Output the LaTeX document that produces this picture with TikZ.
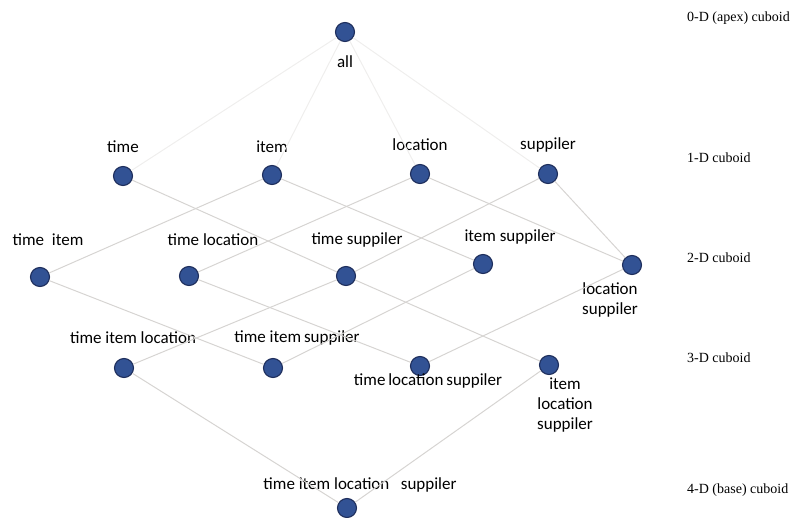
\documentclass[tikz,border=0pt]{standalone}
\usepackage{fontspec}
\setmainfont{Carlito}
\newfontfamily\dimfont{Liberation Serif}
\usetikzlibrary{positioning}

\definecolor{cellblue}{RGB}{50,82,148}
\definecolor{cellrim}{RGB}{30,46,92}
\definecolor{linkgray}{RGB}{214,212,210}

\begin{document}
\begin{tikzpicture}[x=1pt,y=-1pt,
    cell/.style={circle,draw=cellrim,fill=cellblue,line width=1.1pt,minimum size=19pt,inner sep=0pt},
    lab/.style={font=\fontsize{17}{20}\selectfont,inner sep=0pt,align=center},
    dim/.style={font=\dimfont\fontsize{14}{16}\selectfont,anchor=west,inner sep=0pt},
    link/.style={draw=linkgray,line width=1pt},
    faint/.style={draw=linkgray!40,line width=1pt}]
    \useasboundingbox (0,0) rectangle (795,518);

    % apex
    \node[cell] (all) at (345,32) {};
    \node[lab] (allL) at (345,62) {all};

    % 1-D cuboids
    \node[cell] (t) at (123,176) {};
    \node[cell] (i) at (272,175) {};
    \node[cell] (l) at (420,174) {};
    \node[cell] (s) at (548,174) {};
    \node[lab] (tL) at (123,147) {time};
    \node[lab] (iL) at (272,147) {item};
    \node[lab] (lL) at (420,145) {location};
    \node[lab] (sL) at (548,145) {suppiler};

    % 2-D cuboids
    \node[cell] (ti) at (40,277) {};
    \node[cell] (tl) at (189,276) {};
    \node[cell] (ts) at (346,276) {};
    \node[cell] (is) at (483,264) {};
    \node[cell] (ls) at (632,265) {};
    \node[lab] (tiL) at (48,240) {time\ \ item};
    \node[lab] (tlL) at (213,240) {time location};
    \node[lab] (tsL) at (357,240) {time suppiler};
    \node[lab] (isL) at (510,237) {item suppiler};
    \node[lab] (lsL) at (610,300) {location\\suppiler};

    % 3-D cuboids
    \node[cell] (til) at (124,368) {};
    \node[cell] (tis) at (273,368) {};
    \node[cell] (tls) at (420,366) {};
    \node[cell] (ils) at (549,365) {};
    \node[lab] (tilL) at (133,338) {time item location};
    \node[lab] (tisL) at (297,338) {time item\,suppiler};
    \node[lab] (tlsL) at (428,381) {time\,location\,suppiler};
    \node[lab] (ilsL) at (565,405) {item\\location\\suppiler};

    % base
    \node[cell] (base) at (347,508) {};
    \node[lab] (baseL) at (360,485) {time item location\ \ \ suppiler};

    % dimension captions
    \node[dim] (d0) at (687,18) {0-D (apex) cuboid};
    \node[dim] (d1) at (687,158) {1-D cuboid};
    \node[dim] (d2) at (687,258) {2-D cuboid};
    \node[dim] (d3) at (687,358) {3-D cuboid};
    \node[dim] (d4) at (687,490) {4-D (base) cuboid};

    % lattice links
    \draw[faint] (all) -- (t);
    \draw[faint] (all) -- (i);
    \draw[faint] (all) -- (l);
    \draw[faint] (all) -- (s);

    \draw[link] (i) -- (ti);
    \draw[link] (t) -- (ts);
    \draw[link] (l) -- (tl);
    \draw[link] (i) -- (is);
    \draw[link] (l) -- (ls);
    \draw[link] (s) -- (ts);
    \draw[link] (s) -- (ls);

    \draw[link] (ti) -- (tis);
    \draw[link] (tl) -- (tls);
    \draw[link] (ts) -- (til);
    \draw[link] (ts) -- (ils);
    \draw[link] (is) -- (tis);
    \draw[link] (ls) -- (tls);

    \draw[link] (til) -- (base);
    \draw[link] (ils) -- (base);
  \end{tikzpicture}
\end{document}
